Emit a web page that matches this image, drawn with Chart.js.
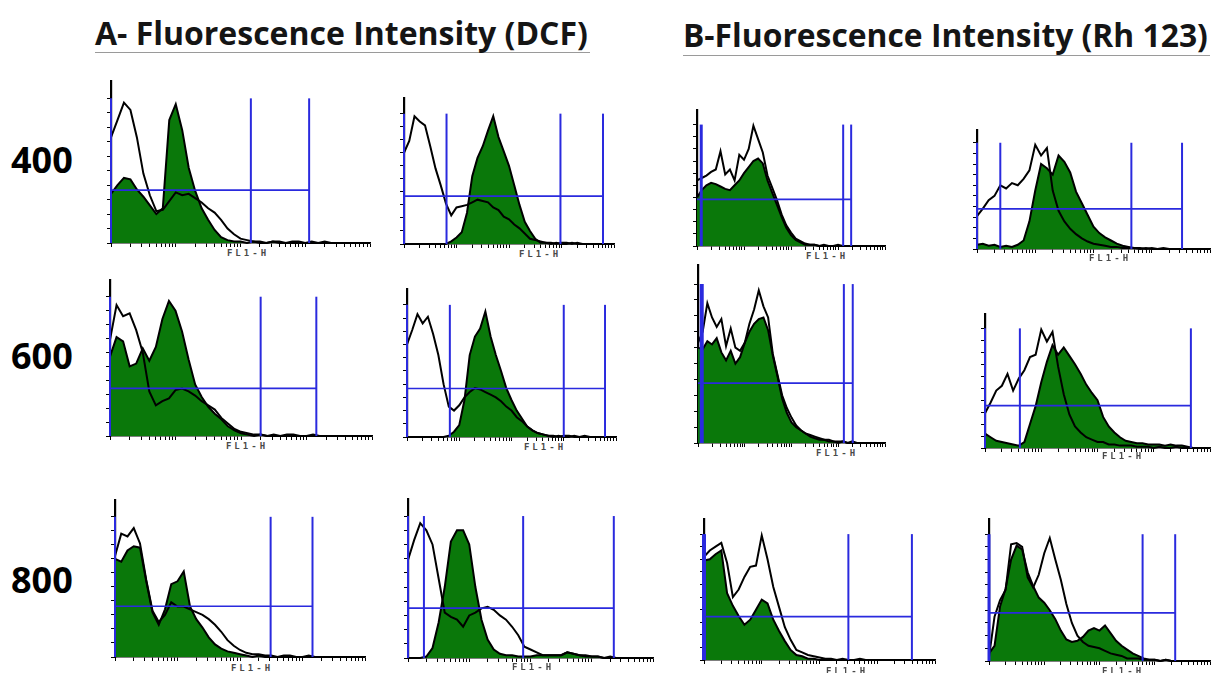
<!DOCTYPE html>
<html>
<head>
<meta charset="utf-8">
<script src="https://cdn.jsdelivr.net/npm/chart.js@4.4.1/dist/chart.umd.min.js"></script>
<style>
  html, body { margin: 0; padding: 0; background: #fff; }
  #page { position: relative; width: 1214px; height: 673px; overflow: hidden; font-family: "Open Sans", sans-serif; }
  .title { position: absolute; font-weight: 700; font-size: 26px; line-height: 1; color: #151515; white-space: nowrap; border-bottom: 1px solid #9a9a9a; box-sizing: border-box; }
  .dose { position: absolute; font-weight: 700; font-size: 36px; line-height: 1; color: #000; white-space: nowrap; transform: translateY(-50%); }
  .axlab { position: absolute; font-family: "DejaVu Sans Mono", monospace; font-weight: 700; font-size: 9px; color: #4a4a4a; letter-spacing: 3px; white-space: nowrap; transform: translate(-50%, -50%); }
  .panel { position: absolute; }
</style>
</head>
<body>
<div id="page">
  <div class="title" id="titleA" style="left:95px; top:17px; width:495px; height:36px;"><span>A- Fluorescence Intensity (DCF)</span></div>
  <div class="title" id="titleB" style="left:683px; top:19px; width:527px; height:37px;"><span>B-Fluorescence Intensity (Rh 123)</span></div>
</div>
<script>
// histogram channels, in log decades (0 = 10^0 ... 4 = 10^4)
const bins = [0,0.1,0.2,0.3,0.4,0.5,0.6,0.7,0.8,0.9,1,1.1,1.2,1.3,1.4,1.5,1.6,1.7,1.8,1.9,2,2.1,2.2,2.3,2.4,2.5,2.6,2.7,2.8,2.9,3,3.1,3.2,3.3,3.4,3.5,3.6,3.7,3.8,3.9,4];
const yTicks = [0,10,20,30,40,50,60,70,80,90,100];
const decadeSteps = [0,0.301,0.477,0.602,0.699,0.778,0.845,0.903,0.954];
const decades = [0,1,2,3];
const doses = ["400", "600", "800"];
const axisLabel = "FL1-H";

// A - DCF, dose 400
const dcf400Ctl = [73,85,97,92,73,48,33,22,23,29,35,33,34,31,28,24,21,16,10,6,3,2,1,1,0,1,1,0,1,1,0,1,0,1,0,0,0,0,0,0,0];
const dcf400Trt = [34,40,45,44,37,32,26,20,24,85,96,78,52,36,24,16,9,4,2,1,1,0,1,0,0,1,0,0,0,0,0,0,0,0,0,0,0,0,0,0,0];
const dcf400Gates = [0,2.16,3.06];
const dcf400Marker = 36.5;
const dcf400bCtl = [70,79,98,94,91,75,58,45,31,22,28,29,30,32,34,33,32,28,26,21,19,15,12,8,4,3,2,1,1,0,1,1,0,1,0,0,0,0,0,0,0];
const dcf400bTrt = [0,0,0,0,0,0,0,0,0,2,5,9,24,52,66,75,87,98,82,71,60,45,30,17,10,4,1,1,0,1,0,0,1,0,0,0,0,0,0,0,0];
const dcf400bGates = [0,0.81,2.98,3.79];
const dcf400bMarker = 36.7;

// B - Rh 123, dose 400
const rh400Ctl = [54,56,58,61,63,78,59,63,54,75,71,80,99,88,77,58,48,38,26,17,11,6,4,2,1,1,0,1,0,0,1,0,0,0,0,0,0,0,0,0,0];
const rh400Trt = [40,46,50,52,51,49,47,46,50,54,60,65,70,72,68,54,44,34,24,15,9,5,3,1,1,1,0,0,0,0,0,0,0,0,0,0,0,0,0,0,0];
const rh400Gates = [0.09,3.11,3.28];
const rh400Marker = 38.4;
const rh400bCtl = [31,38,46,50,60,57,62,60,66,74,98,88,95,55,36,26,19,14,10,7,5,4,3,2,2,1,1,1,0,1,0,0,1,0,0,0,0,0,0,0,0];
const rh400bTrt = [4,5,3,4,2,3,2,4,8,26,55,80,76,70,88,82,72,54,43,32,21,15,11,8,5,3,2,1,1,0,1,0,0,0,0,0,0,0,0,0,0];
const rh400bGates = [0,0.40,2.65,3.52];
const rh400bMarker = 37.7;

// A - DCF, dose 600
const dcf600Ctl = [69,94,86,88,76,60,32,22,25,27,33,34,32,29,25,22,19,13,9,5,3,2,1,1,0,1,0,1,1,0,0,1,0,0,0,0,0,0,0,0,0];
const dcf600Trt = [57,71,68,50,52,63,54,64,84,97,90,75,55,37,28,21,16,12,7,4,2,1,0,1,0,0,0,0,0,0,0,0,0,0,0,0,0,0,0,0,0];
const dcf600Gates = [0,2.30,3.15];
const dcf600Marker = 34.2;
const dcf600bCtl = [70,81,93,86,91,78,62,40,23,20,24,30,34,37,36,34,32,30,27,23,20,15,12,8,5,3,2,1,1,0,1,1,0,0,1,0,0,0,0,0,0];
const dcf600bTrt = [0,0,0,0,0,0,0,0,1,4,9,28,62,76,82,95,76,62,50,37,28,20,14,8,5,3,2,1,0,1,0,0,1,0,0,0,0,0,0,0,0];
const dcf600bGates = [0,0.82,3.0,3.79];
const dcf600bMarker = 36.7;

// B - Rh 123, dose 600
const rh600Ctl = [63,70,88,79,73,78,61,72,60,58,63,75,84,96,86,79,56,43,30,22,16,11,8,6,5,4,3,2,2,1,1,1,0,1,0,0,0,0,0,0,0];
const rh600Trt = [60,59,64,62,66,57,52,58,50,54,63,70,75,78,79,71,55,42,28,19,13,10,8,6,4,3,2,2,1,1,0,1,0,0,0,0,0,0,0,0,0];
const rh600Gates = [0.08,3.12,3.31];
const rh600Marker = 37.7;
const rh600bCtl = [29,38,48,52,62,48,58,65,76,78,99,89,97,68,45,28,18,13,9,7,5,5,3,3,2,2,2,1,1,1,0,1,0,0,1,0,0,0,0,0,0];
const rh600bTrt = [12,9,6,5,4,3,2,5,20,35,55,72,86,78,84,77,70,62,53,46,40,26,18,13,9,6,5,4,4,3,3,3,2,3,2,2,1,0,0,0,0];
const rh600bGates = [0,0.62,3.66];
const rh600bMarker = 35.5;

// A - DCF, dose 800
const dcf800Ctl = [72,88,86,92,81,55,33,25,30,39,36,36,34,32,30,27,23,18,12,8,5,3,2,2,1,1,0,1,1,0,0,1,0,0,0,0,0,0,0,0,0];
const dcf800Trt = [70,68,76,79,78,54,32,23,34,52,54,61,36,27,21,14,9,6,4,3,2,1,0,1,0,0,0,0,0,0,0,0,0,0,0,0,0,0,0,0,0];
const dcf800Gates = [0,2.49,3.16];
const dcf800Marker = 36.2;
const dcf800bCtl = [69,83,95,90,80,56,32,29,27,22,30,32,35,36,34,30,27,22,16,8,6,4,2,2,2,2,4,3,2,1,1,1,0,1,0,0,0,0,0,0,0];
const dcf800bTrt = [0,0,0,1,7,25,50,82,90,90,80,50,27,13,6,3,2,2,1,1,1,2,2,2,2,2,4,3,2,2,1,1,0,0,0,0,0,0,0,0,0];
const dcf800bGates = [0,0.26,1.88,3.36];
const dcf800bMarker = 35.1;

// B - Rh 123, dose 800
const rh800Ctl = [82,87,90,93,77,50,56,66,74,75,99,80,58,42,26,16,8,6,4,3,2,1,1,0,1,0,0,1,0,0,0,0,0,0,0,0,0,0,0,0,0];
const rh800Trt = [79,80,84,87,53,43,35,28,32,40,48,45,32,23,15,8,4,3,1,1,0,0,0,0,0,0,0,0,0,0,0,0,0,0,0,0,0,0,0,0,0];
const rh800Gates = [0,2.50,3.60];
const rh800Marker = 34.4;
const rh800bCtl = [3,35,48,56,92,93,90,66,58,68,85,97,80,64,45,30,20,15,12,11,10,8,6,5,4,2,2,2,1,1,1,0,1,0,0,0,0,0,0,0,0];
const rh800bTrt = [6,12,43,57,80,91,88,70,59,50,46,40,33,24,17,15,16,19,24,26,24,28,22,16,12,9,6,4,2,1,1,0,1,0,0,0,0,0,0,0,0];
const rh800bGates = [0,2.78,3.37];
const rh800bMarker = 37.9;

const GREEN = "#0a780a";
const BLUE = "#2a2ade";
const Y_MAX = 112;
const AXIS_W = 6;
const TICK_H = 5;
const PAD_T = 2;
const PAD_R = 3;

// box: [y-axis x, x-axis y, px per 100 counts, x-axis right end]; lab: FL1-H centre
const panels = [
    { ctl: dcf400Ctl, trt: dcf400Trt, gates: dcf400Gates, marker: dcf400Marker, box: [111, 243, 145, 370], lab: [248, 253], edge: 2 },
    { ctl: dcf400bCtl, trt: dcf400bTrt, gates: dcf400bGates, marker: dcf400bMarker, box: [404, 244, 130, 614], lab: [540, 254], edge: 2 },
    { ctl: rh400Ctl, trt: rh400Trt, gates: rh400Gates, marker: rh400Marker, box: [697, 246, 121, 885], lab: [827, 256], edge: 3 },
    { ctl: rh400bCtl, trt: rh400bTrt, gates: rh400bGates, marker: rh400bMarker, box: [977, 249, 106, 1210], lab: [1110, 258], edge: 2 },
    { ctl: dcf600Ctl, trt: dcf600Trt, gates: dcf600Gates, marker: dcf600Marker, box: [110, 436, 139, 372], lab: [247, 446], edge: 2 },
    { ctl: dcf600bCtl, trt: dcf600bTrt, gates: dcf600bGates, marker: dcf600bMarker, box: [407, 437, 132, 616], lab: [545, 447], edge: 2 },
    { ctl: rh600Ctl, trt: rh600Trt, gates: rh600Gates, marker: rh600Marker, box: [698, 443, 159, 885], lab: [837, 453], edge: 4 },
    { ctl: rh600bCtl, trt: rh600bTrt, gates: rh600bGates, marker: rh600bMarker, box: [985, 448, 120, 1210], lab: [1123, 456], edge: 2 },
    { ctl: dcf800Ctl, trt: dcf800Trt, gates: dcf800Gates, marker: dcf800Marker, box: [115, 657, 140, 365], lab: [252, 668], edge: 2 },
    { ctl: dcf800bCtl, trt: dcf800bTrt, gates: dcf800bGates, marker: dcf800bMarker, box: [408, 658, 142, 653], lab: [533, 667], edge: 2 },
    { ctl: rh800Ctl, trt: rh800Trt, gates: rh800Gates, marker: rh800Marker, box: [704, 660, 126, 935], lab: [847, 671], edge: 4 },
    { ctl: rh800bCtl, trt: rh800bTrt, gates: rh800bGates, marker: rh800bMarker, box: [989, 661, 127, 1210], lab: [1123, 671], edge: 3 }
];

const dosePos = [[11, 160], [11, 356], [11, 580]];

const xTickPos = [];
decades.forEach((d) => {
    decadeSteps.forEach((s) => xTickPos.push(d + s));
});
xTickPos.push(4);

const page = document.getElementById("page");

function criarPainel(p) {
    const [x0, y0, h100, x1] = p.box;
    const top = Math.round(y0 - h100 * Y_MAX / 100 - PAD_T);
    const left = x0 - AXIS_W;
    const w = x1 - x0 + AXIS_W + PAD_R;
    const h = y0 - top + TICK_H;

    const canvas = document.createElement("canvas");
    canvas.className = "panel";
    canvas.width = w;
    canvas.height = h;
    canvas.style.left = left + "px";
    canvas.style.top = top + "px";
    canvas.style.width = w + "px";
    canvas.style.height = h + "px";
    page.appendChild(canvas);

    const datasets = [];
    p.gates.forEach((g, i) => {
        datasets.push({
            data: [{ x: g, y: 0 }, { x: g, y: 100 }],
            borderColor: BLUE,
            borderWidth: i === 0 ? p.edge : 2,
            pointRadius: 0,
            fill: false,
            order: 0,
            clip: 4
        });
    });
    datasets.push({
        data: [{ x: 0, y: p.marker }, { x: p.gates[p.gates.length - 1], y: p.marker }],
        borderColor: BLUE,
        borderWidth: 1.7,
        pointRadius: 0,
        fill: false,
        order: 0,
        clip: 4
    });
    datasets.push({
        data: p.ctl,
        borderColor: "#000",
        borderWidth: 2,
        pointRadius: 0,
        tension: 0,
        fill: false,
        order: 1,
        clip: 4
    });
    datasets.push({
        data: p.trt,
        borderColor: "#000",
        borderWidth: 2,
        backgroundColor: GREEN,
        pointRadius: 0,
        tension: 0,
        fill: "origin",
        order: 2,
        clip: 4
    });

    new Chart(canvas.getContext("2d"), {
        type: "line",
        data: { labels: bins, datasets: datasets },
        options: {
            responsive: false,
            animation: false,
            layout: { padding: { top: PAD_T, right: PAD_R, left: 0, bottom: 0 } },
            scales: {
                x: {
                    type: "linear",
                    min: 0,
                    max: 4,
                    afterBuildTicks: (s) => { s.ticks = xTickPos.map((v) => ({ value: v })); },
                    afterFit: (s) => { s.height = TICK_H; },
                    ticks: { display: false },
                    grid: { drawOnChartArea: false, drawTicks: true, tickLength: 4, color: "#000", lineWidth: 1 },
                    border: { color: "#000", width: 1.5 }
                },
                y: {
                    type: "linear",
                    min: 0,
                    max: Y_MAX,
                    afterBuildTicks: (s) => { s.ticks = yTicks.map((v) => ({ value: v })); },
                    afterFit: (s) => { s.width = AXIS_W; },
                    ticks: { display: false },
                    grid: { drawOnChartArea: false, drawTicks: true, tickLength: 4, color: "#000", lineWidth: 1 },
                    border: { color: "#000", width: 2.2 }
                }
            },
            plugins: {
                legend: { display: false },
                tooltip: { enabled: false }
            }
        }
    });

    const lab = document.createElement("div");
    lab.className = "axlab";
    lab.textContent = axisLabel;
    lab.style.left = p.lab[0] + "px";
    lab.style.top = p.lab[1] + "px";
    page.appendChild(lab);
}

panels.forEach(criarPainel);

doses.forEach((d, i) => {
    const el = document.createElement("div");
    el.className = "dose";
    el.textContent = d;
    el.style.left = dosePos[i][0] + "px";
    el.style.top = dosePos[i][1] + "px";
    page.appendChild(el);
});

// ajusta o tamanho da fonte dos títulos à largura do original
function ajustarTitulo(id, alvo) {
    const span = document.querySelector("#" + id + " span");
    const base = 26;
    const largura = span.getBoundingClientRect().width;
    span.parentElement.style.fontSize = (base * alvo / largura).toFixed(2) + "px";
}
ajustarTitulo("titleA", 493);
ajustarTitulo("titleB", 525);
</script>
</body>
</html>
